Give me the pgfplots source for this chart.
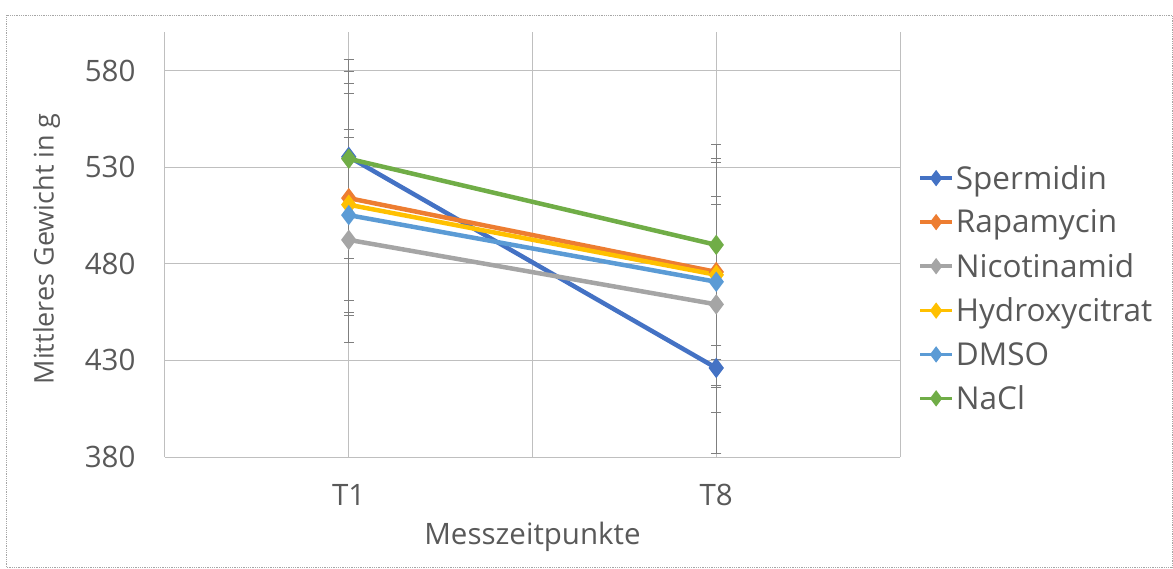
\documentclass[border=0pt]{standalone}
\usepackage{pgfplots}
\pgfplotsset{compat=1.18}
\usepackage{fontspec}
\setmainfont{Open Sans}
\definecolor{txt}{HTML}{595959}
\definecolor{grid}{HTML}{D9D9D9}
\definecolor{ebar}{HTML}{7F7F7F}
\definecolor{cSp}{HTML}{4472C4}
\definecolor{cRa}{HTML}{ED7D31}
\definecolor{cNi}{HTML}{A5A5A5}
\definecolor{cHy}{HTML}{FFC000}
\definecolor{cDM}{HTML}{5B9BD5}
\definecolor{cNa}{HTML}{70AD47}
\newcommand{\fs}{\fontsize{29.5}{34}\selectfont}
\newcommand{\fy}{\fontsize{27}{32}\selectfont}
\newcommand{\fl}{\fontsize{31.5}{37}\selectfont}
\begin{document}
\begin{tikzpicture}
\path[use as bounding box] (-165pt,-111pt) rectangle (1008pt,457pt);
\draw[densely dotted, gray!70, line width=0.8pt] (-159pt,-110pt) rectangle (1007pt,442pt);
\begin{axis}[
  at={(0pt,0pt)}, anchor=south west,
  scale only axis, width=735pt, height=425pt,
  xmin=0.5, xmax=2.5, ymin=380, ymax=600,
  xtick={1,2}, xticklabels={T1,T8},
  ytick={380,430,480,530,580},
  extra x ticks={0.5,1.5,2.5}, extra x tick labels={},
  extra x tick style={grid=major, major tick length=0pt},
  ymajorgrids, major grid style={grid, line width=1pt},
  axis line style={draw=none},
  major tick length=0pt,
  tick label style={font=\fs, text=txt},
  /pgf/number format/assume math mode=true,
  xticklabel style={yshift=-24pt},
  yticklabel style={xshift=-26pt},
  xlabel={Messzeitpunkte}, ylabel={Mittleres Gewicht in g},
  xlabel style={font=\fs, text=txt, at={(axis description cs:0.5,-0.188)}, anchor=center},
  ylabel style={font=\fy, text=txt, at={(axis description cs:-0.161,0.49)}, anchor=center, rotate=0},
  legend style={at={(1.022,0.696)}, anchor=north west, draw=none, fill=none,
    font=\fl, text=txt, row sep=15pt, cells={anchor=west}, inner sep=2pt},
  legend image code/.code={
    \draw[#1, line width=3.5pt] (0pt,0pt) -- (32pt,0pt);
    \draw[#1, mark size=4.5pt, mark options={solid}] plot coordinates {(16pt,0pt)};
  },
  every axis plot/.append style={line width=4.5pt, mark=diamond*, mark size=6.5pt},
]
% error bars (drawn first, underneath)
\pgfplotsset{ebstyle/.style={draw=none, mark=none, forget plot,
  error bars/.cd, y dir=both, y explicit,
  error bar style={color=ebar, line width=1.3pt},
  error mark options={rotate=90, mark size=5pt, color=ebar, line width=1pt}}}
\addplot[ebstyle] coordinates {(1,535.4) +- (0,44.3) (2,426.1) +- (0,44.2)};
\addplot[ebstyle] coordinates {(1,514.0) +- (0,59.4) (2,475.8) +- (0,58.6)};
\addplot[ebstyle] coordinates {(1,492.4) +- (0,53.2) (2,459.0) +- (0,55.8)};
\addplot[ebstyle] coordinates {(1,510.6) +- (0,57.5) (2,474.3) +- (0,58.2)};
\addplot[ebstyle] coordinates {(1,505.2) +- (0,44.3) (2,470.7) +- (0,40.0)};
\addplot[ebstyle] coordinates {(1,534.4) +- (0,51.5) (2,489.8) +- (0,51.9)};
% lines
\addplot[color=cSp] coordinates {(1,535.4) (2,426.1)};
\addplot[color=cRa] coordinates {(1,514.0) (2,475.8)};
\addplot[color=cNi] coordinates {(1,492.4) (2,459.0)};
\addplot[color=cHy] coordinates {(1,510.6) (2,474.3)};
\addplot[color=cDM] coordinates {(1,505.2) (2,470.7)};
\addplot[color=cNa] coordinates {(1,534.4) (2,489.8)};
\legend{Spermidin,Rapamycin,Nicotinamid,Hydroxycitrat,DMSO,NaCl}
\end{axis}
\end{tikzpicture}
\end{document}
